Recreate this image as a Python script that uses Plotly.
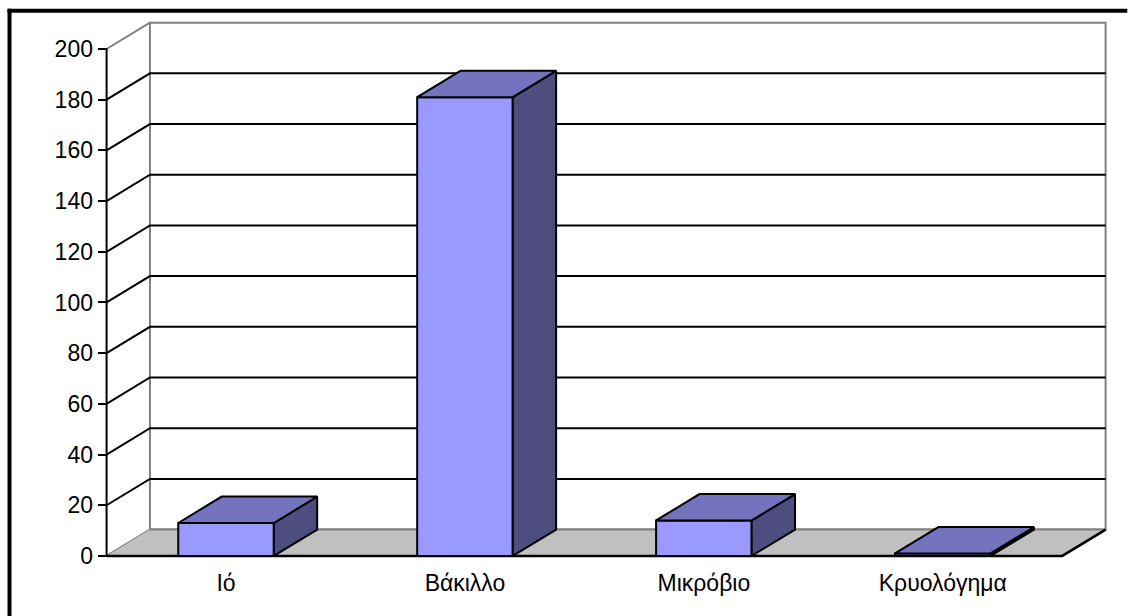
import plotly.graph_objects as go

# ---- data ----
categories = ["Ιό", "Βάκιλλο", "Μικρόβιο", "Κρυολόγημα"]
counts = [13, 181, 14, 1]
y_ticks = list(range(0, 201, 20))

# ---- 3D look (depth offsets in axis units) ----
DX = 0.1815          # depth shift along the category axis
DY = 10.4            # depth shift along the value axis
HW = 0.2             # half width of each column
X_LEFT, X_RIGHT = -0.5, len(categories) - 0.5
V_MAX = 200

FRONT = "#9999FF"
TOP = "#7474BE"
SIDE = "#4D4D80"
FLOOR = "#C0C0C0"
EDGE_GREY = "#808080"
FONT = "Arial, Liberation Sans, sans-serif"
FONT_SIZE = 23

# ---- page / scale geometry ----
W, H = 1136, 616
PX_XL, PX_PER_X = 107.0, 238.75     # pixel of x = -0.5, pixels per category
PX_Y0, PX_PER_Y = 555.7, 2.532      # pixel of value 0, pixels per unit
X0, X1 = -0.515, 3.75
Y0, Y1 = -2.0, 215.0

m_l = PX_XL + (X0 - X_LEFT) * PX_PER_X
m_r = W - (PX_XL + (X1 - X_LEFT) * PX_PER_X)
m_t = PX_Y0 - Y1 * PX_PER_Y
m_b = H - (PX_Y0 - Y0 * PX_PER_Y)

fig = go.Figure()


def poly(xs, ys, fill, line_color="black", width=2):
    fig.add_trace(go.Scatter(
        x=list(xs) + [xs[0]], y=list(ys) + [ys[0]],
        mode="lines", fill="toself", fillcolor=fill,
        line=dict(color=line_color, width=width),
        hoverinfo="skip", showlegend=False))


def lines(xs, ys, color, width=2):
    fig.add_trace(go.Scatter(
        x=xs, y=ys, mode="lines",
        line=dict(color=color, width=width),
        hoverinfo="skip", showlegend=False, connectgaps=False))


# back wall
poly([X_LEFT + DX, X_RIGHT + DX, X_RIGHT + DX, X_LEFT + DX],
     [DY, DY, V_MAX + DY, V_MAX + DY], "white", EDGE_GREY, 2)

# gridlines: diagonal on the side wall + horizontal on the back wall
gx, gy = [], []
for v in y_ticks[1:-1]:
    gx += [X_LEFT, X_LEFT + DX, X_RIGHT + DX, None]
    gy += [v, v + DY, v + DY, None]
lines(gx, gy, "black", 2)

# side-wall outer edges (grey)
lines([X_LEFT, X_LEFT + DX, None, X_LEFT, X_LEFT + DX],
      [V_MAX, V_MAX + DY, None, 0, DY], EDGE_GREY, 2)

# floor
fig.add_trace(go.Scatter(
    x=[X_LEFT, X_RIGHT, X_RIGHT + DX, X_LEFT + DX, X_LEFT],
    y=[0, 0, DY, DY, 0], mode="lines", fill="toself", fillcolor=FLOOR,
    line=dict(width=0), hoverinfo="skip", showlegend=False))
lines([X_LEFT + DX, X_RIGHT + DX], [DY, DY], EDGE_GREY, 2)
lines([X_LEFT, X_RIGHT, X_RIGHT + DX], [0, 0, DY], "black", 2.5)

# front value axis line
lines([X_LEFT, X_LEFT], [0, V_MAX], "black", 2)

# columns
for i, v in enumerate(counts):
    l, r = i - HW, i + HW
    poly([l, r, r, l], [0, 0, v, v], FRONT)
    poly([r, r + DX, r + DX, r], [0, DY, v + DY, v], SIDE)
    poly([l, r, r + DX, l + DX], [v, v, v + DY, v + DY], TOP)

bounds = [X_LEFT + k for k in range(len(categories) + 1)]

fig.update_layout(
    width=W, height=H,
    margin=dict(l=m_l, r=m_r, t=m_t, b=m_b, pad=0),
    paper_bgcolor="white", plot_bgcolor="white",
    font=dict(family=FONT, size=FONT_SIZE, color="black"),
    xaxis=dict(range=[X0, X1], domain=[0, 1], anchor="free",
               position=(0 - Y0) / (Y1 - Y0),
               tickvals=list(range(len(categories))), ticktext=categories,
               ticks="", showgrid=False, zeroline=False, showline=False,
               ticklabelstandoff=11, automargin=False,
               tickfont=dict(family=FONT, size=FONT_SIZE, color="black")),
    xaxis2=dict(range=[X0, X1], domain=[0, 1], overlaying="x",
                anchor="free", position=(0 - Y0) / (Y1 - Y0), side="bottom",
                tickvals=bounds, showticklabels=False, ticks="outside",
                ticklen=9, tickwidth=2, tickcolor="black",
                showgrid=False, zeroline=False, showline=False,
                automargin=False),
    yaxis=dict(range=[Y0, Y1], domain=[0, 1], anchor="free",
               position=(X_LEFT - X0) / (X1 - X0),
               tickvals=y_ticks, ticks="outside", ticklen=9, tickwidth=2,
               tickcolor="black", showgrid=False, zeroline=False,
               showline=False, automargin=False,
               tickfont=dict(family=FONT, size=FONT_SIZE, color="black")),
    showlegend=False,
)

# outer chart frame
def px_x(p):
    return (p - m_l) / (W - m_l - m_r)


def px_y(p):
    return (H - m_b - p) / (H - m_t - m_b)


fig.add_shape(type="line", xref="paper", yref="paper",
              x0=px_x(8), x1=px_x(1127), y0=px_y(11), y1=px_y(11),
              line=dict(color="black", width=4))
fig.add_shape(type="line", xref="paper", yref="paper",
              x0=px_x(10), x1=px_x(10), y0=px_y(9), y1=px_y(620),
              line=dict(color="black", width=4))

fig.write_html("out.html")
